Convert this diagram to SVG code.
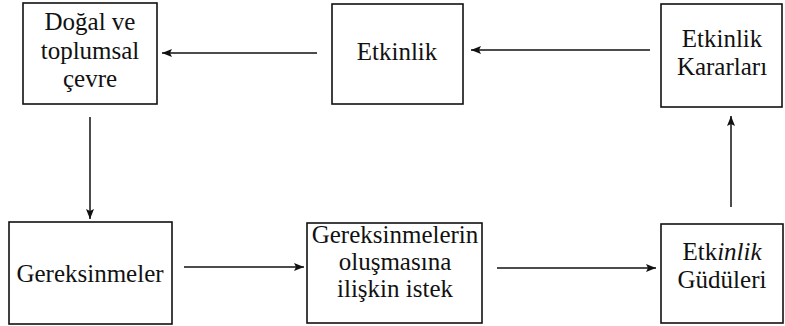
<svg xmlns="http://www.w3.org/2000/svg" width="785" height="326" viewBox="0 0 785 326">
<style>
.box{fill:#fff;stroke:#111;stroke-width:1.6}
.c{stroke:#111;stroke-width:1.5;fill:none;marker-end:url(#ah)}
</style>
<defs>
<marker id="ah" viewBox="0 0 10 10" refX="10" refY="5" markerWidth="10" markerHeight="10" markerUnits="userSpaceOnUse" orient="auto">
<path d="M0,1 L10,5 L0,9 L2,5 Z" fill="#111"/>
</marker>
</defs>
<rect width="785" height="326" fill="#fff"/>
<g id="connectors">
<line class="c" x1="317" y1="53" x2="162" y2="53"/>
<line class="c" x1="650" y1="50" x2="471" y2="50"/>
<line class="c" x1="90" y1="117" x2="90" y2="219"/>
<line class="c" x1="731" y1="207" x2="731" y2="116"/>
<line class="c" x1="184" y1="267" x2="304" y2="267"/>
<line class="c" x1="497" y1="268" x2="656" y2="268"/>
</g>
<g font-family="Liberation Serif" font-size="25" fill="#111" text-anchor="middle">
<g id="n-cevre">
<rect class="box" x="23" y="3" width="134" height="101"/>
<text x="90" y="30" font-family="Liberation Serif">Doğal ve</text>
<text x="90" y="59" font-family="Liberation Serif">toplumsal</text>
<text x="90" y="87" font-family="Liberation Serif">çevre</text>
</g>
<g id="n-etkinlik">
<rect class="box" x="332" y="4" width="131" height="100"/>
<text x="397" y="60" font-family="Liberation Serif">Etkinlik</text>
</g>
<g id="n-kararlar">
<rect class="box" x="661" y="4" width="121" height="103"/>
<text x="722" y="47" font-family="Liberation Serif">Etkinlik</text>
<text x="722" y="75" font-family="Liberation Serif">Kararları</text>
</g>
<g id="n-gereksinmeler">
<rect class="box" x="9" y="222" width="163" height="102"/>
<text x="90" y="282" font-family="Liberation Serif">Gereksinmeler</text>
</g>
<g id="n-istek">
<rect class="box" x="307" y="223" width="175" height="100"/>
<text x="395" y="243" font-family="Liberation Serif">Gereksinmelerin</text>
<text x="395" y="270" font-family="Liberation Serif">oluşmasına</text>
<text x="395" y="297" font-family="Liberation Serif">ilişkin istek</text>
</g>
<g id="n-gudu">
<rect class="box" x="661" y="224" width="122" height="99"/>
<text x="722" y="260" font-family="Liberation Serif">Etk<tspan font-style="italic">inlik</tspan></text>
<text x="722" y="288" font-family="Liberation Serif">Güdüleri</text>
</g>
</g>
</svg>
